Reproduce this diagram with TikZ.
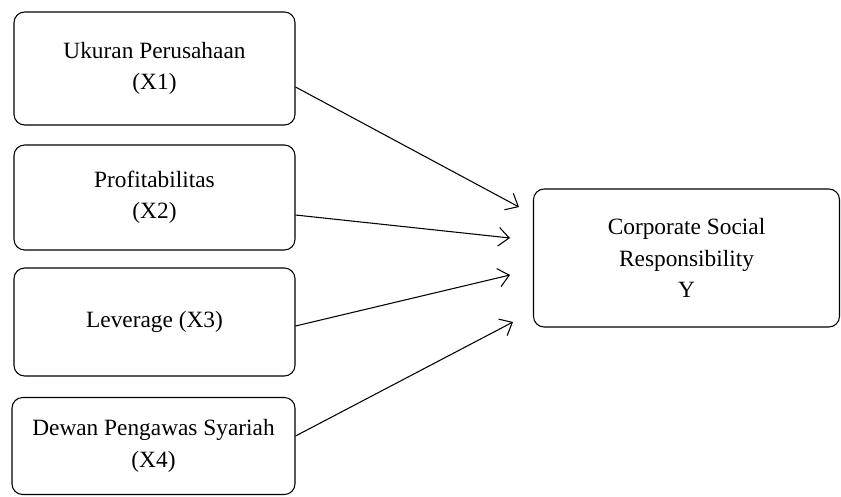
\documentclass[tikz,border=0pt]{standalone}
\usepackage{fontspec}
\setmainfont{Liberation Serif}
\usetikzlibrary{arrows.meta,calc}
\tikzset{
  box/.style={draw, line width=0.8pt, rounded corners=8pt, align=center,
    font=\fontsize{17.5}{23.5}\selectfont, inner sep=0pt},
  conn/.style={line width=0.8pt, -{Straight Barb[length=8pt,width=14pt,line width=0.8pt]}}
}
\begin{document}
\begin{tikzpicture}[x=0.75pt,y=-0.75pt]
\useasboundingbox (0,0) rectangle (841,496);
\node[box, minimum width=281*0.75pt, minimum height=113*0.75pt] (b1) at (154.5,68.5) {Ukuran Perusahaan\\(X1)};
\node[box, minimum width=281*0.75pt, minimum height=105*0.75pt] (b2) at (154.5,197.5) {Profitabilitas\\(X2)};
\node[box, minimum width=281*0.75pt, minimum height=108*0.75pt] (b3) at (154.5,322) {Leverage (X3)};
\node[box, minimum width=283*0.75pt, minimum height=97*0.75pt] (b4) at (153.5,446) {Dewan Pengawas Syariah\\(X4)};
\node[box, minimum width=306*0.75pt, minimum height=138*0.75pt] (y) at (686.5,258) {Corporate Social\\Responsibility\\Y};
\coordinate (e1) at (519,207);
\coordinate (e2) at (510,238);
\coordinate (e3) at (510,275);
\coordinate (e4) at (513,322);
\draw[conn] ($(b1.east)+(0,18.5)$) -- (e1);
\draw[conn] ($(b2.east)+(0,17.5)$) -- (e2);
\draw[conn] ($(b3.east)+(0,4)$) -- (e3);
\draw[conn] ($(b4.east)+(0,-10)$) -- (e4);
\end{tikzpicture}
\end{document}
